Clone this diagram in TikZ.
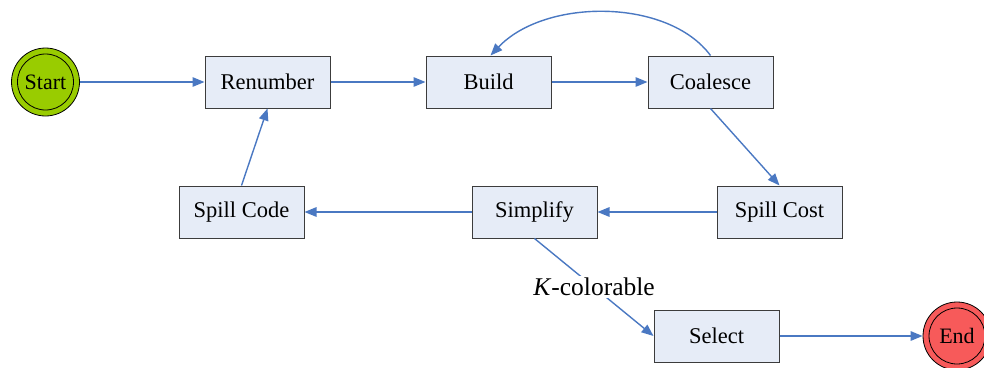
\documentclass[tikz,border=0pt]{standalone}
\usepackage{fontspec}
\setmainfont{Liberation Serif}
\usetikzlibrary{arrows.meta}
\definecolor{boxfill}{HTML}{E6ECF7}
\definecolor{boxline}{HTML}{3C3C3C}
\definecolor{flow}{HTML}{4A78C2}
\definecolor{startfill}{HTML}{99CC00}
\definecolor{endfill}{HTML}{F75A5A}
\begin{document}
\begin{tikzpicture}[x=1pt,y=-1pt,
  stage/.style={draw=boxline, line width=1pt, fill=boxfill, minimum width=125pt,
    minimum height=52pt, inner sep=0pt, font=\fontsize{22.5}{26}\selectfont},
  terminal/.style={circle, draw=black, line width=0.8pt, minimum size=68pt,
    inner sep=0pt},
  termtext/.style={font=\fontsize{22}{26}\selectfont, inner sep=0pt},
  flowline/.style={draw=flow, line width=1.4pt, -{Triangle[length=12pt,width=9.5pt]}},
  tag/.style={fill=white, inner sep=2pt, font=\fontsize{25.5}{29}\selectfont}]
\useasboundingbox (0,0) rectangle (984,367);
\begin{scope}
\clip (0,0) rectangle (984,367);
% terminals with a second inner ring
\node[terminal, fill=startfill] (start) at (45.5,82) {};
\draw[line width=0.8pt] (start.center) circle (28pt);
\node[termtext] (starttxt) at (start.center) {Start};
\node[terminal, fill=endfill] (end) at (957,336) {};
\draw[line width=0.8pt] (end.center) circle (28pt);
\node[termtext] (endtxt) at (end.center) {End};
\end{scope}
% processing stages
\node[stage] (renum) at (267.5,82) {Renumber};
\node[stage] (build) at (488.5,82) {Build};
\node[stage] (coal) at (710.5,82) {Coalesce};
\node[stage] (spcode) at (241.5,212) {Spill Code};
\node[stage] (simp) at (534.5,212) {Simplify};
\node[stage] (spcost) at (779.5,212) {Spill Cost};
\node[stage] (sel) at (716.5,336) {Select};
% connectors
\draw[flowline] (start) -- (renum);
\draw[flowline] (renum) -- (build);
\draw[flowline] (build) -- (coal);
\draw[flowline] (coal.north) .. controls (668,-2) and (545,-2) .. ([xshift=2pt]build.north);
\draw[flowline] (coal.south) -- (spcost.north);
\draw[flowline] (spcost) -- (simp);
\draw[flowline] (simp) -- (spcode);
\draw[flowline] (spcode.north) -- (renum.south);
\draw[flowline] (simp.south) -- node[tag] (kcol) {\textit{K}-colorable} (sel.west);
\draw[flowline] (sel) -- (end);
\end{tikzpicture}
\end{document}
